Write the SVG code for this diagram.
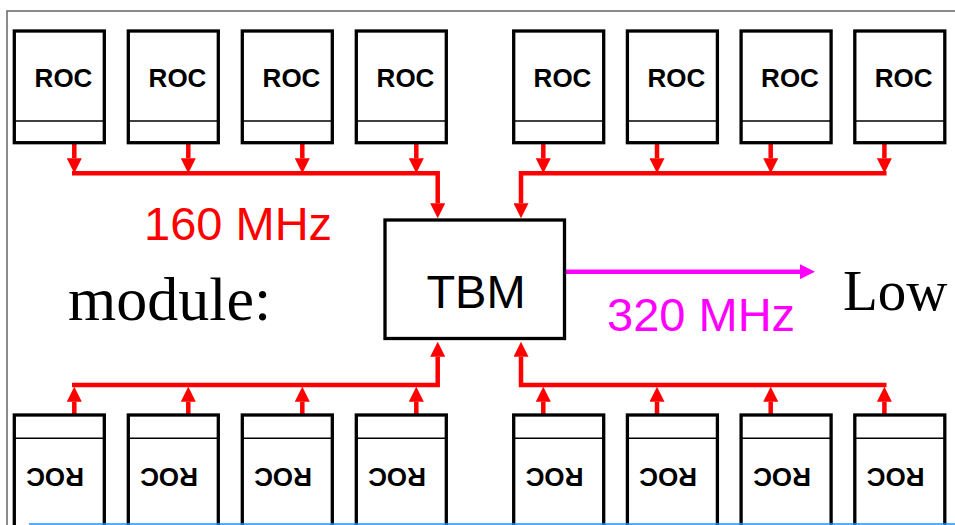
<svg xmlns="http://www.w3.org/2000/svg" width="955" height="525" viewBox="0 0 955 525">
<style>
.box{fill:#fff;stroke:#000;stroke-width:3.3}
.div{stroke:#000;stroke-width:1.5}
.roc{font-family:"Liberation Sans",Arial,sans-serif;font-weight:bold;font-size:26px;text-anchor:middle;fill:#000}
.red{fill:none;stroke:#f00;stroke-width:4.5;stroke-linejoin:miter}
.mag{fill:none;stroke:#f0f;stroke-width:4.5}
.lbl{font-family:"Liberation Sans",Arial,sans-serif;font-size:47px}
.serif{font-family:"Liberation Serif","Times New Roman",serif;fill:#000}
</style>
<defs>
<marker id="ar" viewBox="0 0 15 15" refX="0" refY="7.5" markerWidth="15" markerHeight="15" markerUnits="userSpaceOnUse" orient="auto"><path d="M0,0 L15,7.5 L0,15 z" fill="#f00"/></marker>
<marker id="am" viewBox="0 0 15 15" refX="0" refY="7.5" markerWidth="15" markerHeight="15" markerUnits="userSpaceOnUse" orient="auto"><path d="M0,0 L15,7.5 L0,15 z" fill="#f0f"/></marker>
</defs>
<rect width="955" height="525" fill="#fff"/>
<path d="M7,525 V11 H955" fill="none" stroke="#666" stroke-width="1.5"/>

<g id="connectors">
<line class="red" x1="74.3" y1="144" x2="74.3" y2="158.3" marker-end="url(#ar)"/>
<line class="red" x1="188.3" y1="144" x2="188.3" y2="158.3" marker-end="url(#ar)"/>
<line class="red" x1="302.3" y1="144" x2="302.3" y2="158.3" marker-end="url(#ar)"/>
<line class="red" x1="416.3" y1="144" x2="416.3" y2="158.3" marker-end="url(#ar)"/>
<line class="red" x1="543.3" y1="144" x2="543.3" y2="158.3" marker-end="url(#ar)"/>
<line class="red" x1="657" y1="144" x2="657" y2="158.3" marker-end="url(#ar)"/>
<line class="red" x1="770.7" y1="144" x2="770.7" y2="158.3" marker-end="url(#ar)"/>
<line class="red" x1="884.4" y1="144" x2="884.4" y2="158.3" marker-end="url(#ar)"/>
<polyline class="red" points="72,173.3 437.7,173.3 437.7,203.3" marker-end="url(#ar)"/>
<polyline class="red" points="886.5,173.3 521,173.3 521,203.3" marker-end="url(#ar)"/>

<line class="red" x1="74.3" y1="415" x2="74.3" y2="401.7" marker-end="url(#ar)"/>
<line class="red" x1="188.3" y1="415" x2="188.3" y2="401.7" marker-end="url(#ar)"/>
<line class="red" x1="302.3" y1="415" x2="302.3" y2="401.7" marker-end="url(#ar)"/>
<line class="red" x1="416.3" y1="415" x2="416.3" y2="401.7" marker-end="url(#ar)"/>
<line class="red" x1="543.3" y1="415" x2="543.3" y2="401.7" marker-end="url(#ar)"/>
<line class="red" x1="657" y1="415" x2="657" y2="401.7" marker-end="url(#ar)"/>
<line class="red" x1="770.7" y1="415" x2="770.7" y2="401.7" marker-end="url(#ar)"/>
<line class="red" x1="884.4" y1="415" x2="884.4" y2="401.7" marker-end="url(#ar)"/>
<polyline class="red" points="72,385 437.7,385 437.7,356.7" marker-end="url(#ar)"/>
<polyline class="red" points="886.5,385 521,385 521,356.7" marker-end="url(#ar)"/>

<line class="mag" x1="564" y1="271.7" x2="800" y2="271.7" marker-end="url(#am)"/>
</g>

<g id="roc-t1"><rect class="box" x="14.3" y="31" width="90" height="111.7"/><line class="div" x1="14.3" y1="121" x2="104.3" y2="121"/><text class="roc" x="63.5" y="87">ROC</text></g>
<g id="roc-t2"><rect class="box" x="128.3" y="31" width="90" height="111.7"/><line class="div" x1="128.3" y1="121" x2="218.3" y2="121"/><text class="roc" x="177.5" y="87">ROC</text></g>
<g id="roc-t3"><rect class="box" x="242.3" y="31" width="90" height="111.7"/><line class="div" x1="242.3" y1="121" x2="332.3" y2="121"/><text class="roc" x="291.5" y="87">ROC</text></g>
<g id="roc-t4"><rect class="box" x="356.3" y="31" width="90" height="111.7"/><line class="div" x1="356.3" y1="121" x2="446.3" y2="121"/><text class="roc" x="405.5" y="87">ROC</text></g>
<g id="roc-t5"><rect class="box" x="513.7" y="31" width="90" height="111.7"/><line class="div" x1="513.7" y1="121" x2="603.7" y2="121"/><text class="roc" x="562.5" y="87">ROC</text></g>
<g id="roc-t6"><rect class="box" x="627.4" y="31" width="90" height="111.7"/><line class="div" x1="627.4" y1="121" x2="717.4" y2="121"/><text class="roc" x="676.3" y="87">ROC</text></g>
<g id="roc-t7"><rect class="box" x="741.1" y="31" width="90" height="111.7"/><line class="div" x1="741.1" y1="121" x2="831.1" y2="121"/><text class="roc" x="790" y="87">ROC</text></g>
<g id="roc-t8"><rect class="box" x="854.8" y="31" width="90" height="111.7"/><line class="div" x1="854.8" y1="121" x2="944.8" y2="121"/><text class="roc" x="903.7" y="87">ROC</text></g>

<g id="roc-b1"><rect class="box" x="14.3" y="415" width="90" height="130"/><line class="div" x1="14.3" y1="438.3" x2="104.3" y2="438.3"/><text class="roc" transform="translate(55,468) rotate(180)">ROC</text></g>
<g id="roc-b2"><rect class="box" x="128.3" y="415" width="90" height="130"/><line class="div" x1="128.3" y1="438.3" x2="218.3" y2="438.3"/><text class="roc" transform="translate(169,468) rotate(180)">ROC</text></g>
<g id="roc-b3"><rect class="box" x="242.3" y="415" width="90" height="130"/><line class="div" x1="242.3" y1="438.3" x2="332.3" y2="438.3"/><text class="roc" transform="translate(283,468) rotate(180)">ROC</text></g>
<g id="roc-b4"><rect class="box" x="356.3" y="415" width="90" height="130"/><line class="div" x1="356.3" y1="438.3" x2="446.3" y2="438.3"/><text class="roc" transform="translate(397,468) rotate(180)">ROC</text></g>
<g id="roc-b5"><rect class="box" x="513.7" y="415" width="90" height="130"/><line class="div" x1="513.7" y1="438.3" x2="603.7" y2="438.3"/><text class="roc" transform="translate(554.5,468) rotate(180)">ROC</text></g>
<g id="roc-b6"><rect class="box" x="627.4" y="415" width="90" height="130"/><line class="div" x1="627.4" y1="438.3" x2="717.4" y2="438.3"/><text class="roc" transform="translate(668.2,468) rotate(180)">ROC</text></g>
<g id="roc-b7"><rect class="box" x="741.1" y="415" width="90" height="130"/><line class="div" x1="741.1" y1="438.3" x2="831.1" y2="438.3"/><text class="roc" transform="translate(782,468) rotate(180)">ROC</text></g>
<g id="roc-b8"><rect class="box" x="854.8" y="415" width="90" height="130"/><line class="div" x1="854.8" y1="438.3" x2="944.8" y2="438.3"/><text class="roc" transform="translate(895.6,468) rotate(180)">ROC</text></g>

<g id="tbm"><rect class="box" x="385" y="220" width="179.5" height="118.5"/><text x="476" y="308" font-family="Liberation Sans, Arial, sans-serif" font-size="47" text-anchor="middle" fill="#000">TBM</text></g>

<text class="lbl" x="144" y="240" fill="#f00">160 MHz</text>
<text class="lbl" x="607" y="331" fill="#f0f">320 MHz</text>
<text class="serif" x="68" y="320" font-size="62">module:</text>
<text class="serif" x="843" y="310" font-size="57">Low</text>

<line x1="29" y1="524" x2="955" y2="524" stroke="#1e90ff" stroke-width="1.5"/>
</svg>
